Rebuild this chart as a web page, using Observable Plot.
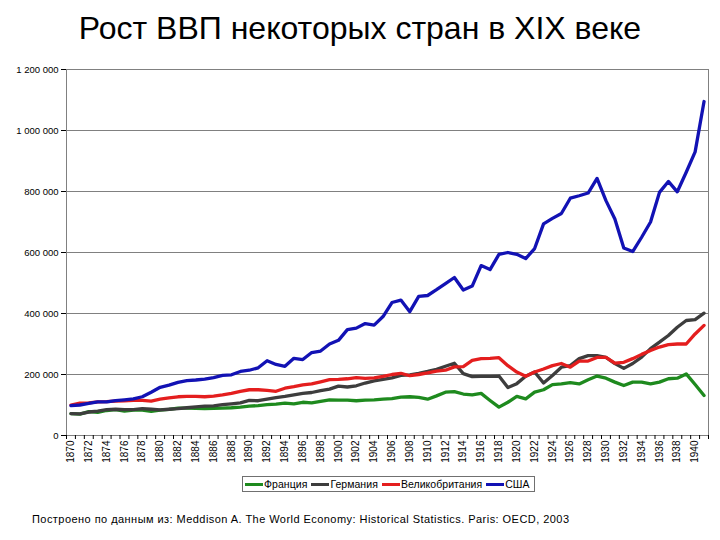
<!DOCTYPE html>
<html>
<head>
<meta charset="utf-8">
<script src="https://cdn.jsdelivr.net/npm/d3@7"></script>
<script src="https://cdn.jsdelivr.net/npm/@observablehq/plot@0.6"></script>
<style>
  html, body { margin: 0; padding: 0; background: #fff; }
  #page { position: relative; width: 720px; height: 540px; overflow: hidden; font-family: "Liberation Sans", Arial, sans-serif; }
  #title { position: absolute; left: 0; top: 12px; width: 720px; text-align: center; font-size: 32px; line-height: 32px; color: #000; }
  #chart { position: absolute; left: 0; top: 50px; }
  #legend { position: absolute; left: 242px; top: 476px; width: 289px; height: 14px; border: 1px solid #707070; display: flex; align-items: center; padding-left: 2px; box-sizing: content-box; }
  .item { display: flex; align-items: center; margin-right: 4px; font-size: 10.5px; letter-spacing: 0.05px; color: #000; font-family: "Liberation Sans Narrow", "Liberation Sans", Arial, sans-serif; white-space: nowrap; }
  .sw { width: 18px; height: 3px; margin-right: 1px; }
  #caption { position: absolute; left: 32px; top: 513px; font-size: 11px; letter-spacing: 0.45px; line-height: 12px; color: #000; white-space: nowrap; }
</style>
</head>
<body>
<div id="page">
  <div id="title"></div>
  <div id="chart"></div>
  <div id="legend"></div>
  <div id="caption"></div>
</div>
<script>
const titleText = "Рост ВВП некоторых стран в XIX веке";
const captionText = "Построено по данным из: Meddison A. The World Economy: Historical Statistics. Paris: OECD, 2003";

const years = [1870,1871,1872,1873,1874,1875,1876,1877,1878,1879,
  1880,1881,1882,1883,1884,1885,1886,1887,1888,1889,
  1890,1891,1892,1893,1894,1895,1896,1897,1898,1899,
  1900,1901,1902,1903,1904,1905,1906,1907,1908,1909,
  1910,1911,1912,1913,1914,1915,1916,1917,1918,1919,
  1920,1921,1922,1923,1924,1925,1926,1927,1928,1929,
  1930,1931,1932,1933,1934,1935,1936,1937,1938,1939,
  1940,1941];

const labelYears = [1870,1872,1874,1876,1878,1880,1882,1884,1886,1888,1890,1892,1894,1896,1898,
  1900,1902,1904,1906,1908,1910,1912,1914,1916,1918,1920,1922,1924,1926,1928,1930,1932,1934,1936,1938,1940];

const yTicks = [0, 200000, 400000, 600000, 800000, 1000000, 1200000];

const names = ["Франция", "Германия", "Великобритания", "США"];
const colors = ["#1e8a1e", "#3d3d3d", "#e41e1e", "#1212b4"];

const france = [72000,70000,78000,76000,82000,85000,80000,83000,83000,79000,
  83000,86000,90000,90000,89000,88000,89000,90000,91000,93000,
  96000,98000,101000,103000,106000,104000,109000,107000,112000,117000,
  116000,116000,114000,116000,117000,119000,121000,126000,127000,125000,
  119000,130000,142000,144000,136000,133000,138000,115000,93000,109000,
  128000,120000,142000,150000,167000,169000,173000,169000,183000,195000,
  188000,175000,164000,175000,175000,169000,175000,186000,188000,202000,
  167000,131000];

const germany = [72000,71000,77000,80000,85000,86000,85000,85000,88000,86000,
  84000,86000,88000,91000,94000,96000,97000,101000,104000,107000,
  115000,114000,119000,124000,128000,133000,138000,141000,147000,152000,
  162000,159000,163000,172000,179000,184000,189000,197000,199000,204000,
  210000,217000,227000,237000,203000,193000,194000,194000,195000,157000,
  170000,194000,208000,172000,197000,224000,229000,252000,262000,262000,
  256000,236000,220000,236000,257000,285000,306000,328000,355000,377000,
  380000,401000];

const britain = [100000,106000,107000,110000,111000,113000,114000,115000,115000,113000,
  119000,123000,127000,128000,128000,127000,129000,133000,138000,145000,
  150000,150000,148000,145000,155000,160000,166000,169000,176000,183000,
  184000,186000,190000,187000,189000,194000,200000,204000,196000,200000,
  205000,211000,214000,225000,226000,246000,252000,253000,255000,229000,
  208000,194000,208000,218000,229000,236000,224000,244000,244000,256000,
  256000,237000,240000,252000,266000,279000,290000,298000,300000,300000,
  333000,361000];

const usa = [98000,100000,105000,110000,110000,114000,117000,120000,127000,142000,
  158000,165000,174000,180000,182000,185000,190000,197000,199000,210000,
  214000,222000,245000,233000,227000,253000,249000,272000,277000,300000,
  312000,347000,352000,367000,362000,390000,436000,444000,406000,456000,
  459000,478000,498000,518000,477000,490000,557000,544000,594000,600000,
  594000,580000,613000,694000,712000,728000,778000,786000,795000,843000,
  770000,710000,615000,603000,650000,700000,797000,833000,799000,863000,
  930000,1095000];

const series = [france, germany, britain, usa];

const rows = [];
series.forEach((vals, i) => {
  vals.forEach((v, j) => rows.push({country: names[i], year: years[j], value: v}));
});

const bounds = years.map(y => y - 0.5).concat([years[years.length - 1] + 0.5]);

const fmt = d3.formatLocale({decimal: ",", thousands: " ", grouping: [3], currency: ["", ""]}).format(",");

document.getElementById("title").textContent = titleText;
document.getElementById("caption").textContent = captionText;

const narrow = "'Liberation Sans Narrow', 'Liberation Sans', Arial, sans-serif";

const chart = Plot.plot({
  width: 720,
  height: 425,
  marginTop: 19,
  marginBottom: 40,
  marginLeft: 66,
  marginRight: 12,
  style: {fontFamily: "'Liberation Sans', Arial, sans-serif", background: "transparent", overflow: "visible"},
  x: {type: "linear", domain: [bounds[0], bounds[bounds.length - 1]], label: null},
  y: {domain: [0, 1200000], label: null},
  color: {domain: names, range: colors},
  marks: [
    Plot.gridY(yTicks.filter(d => d > 0), {stroke: "#808080", strokeOpacity: 1, strokeWidth: 1}),
    Plot.ruleX([bounds[0], bounds[bounds.length - 1]], {y1: 0, y2: 1200000, stroke: "#808080"}),
    Plot.ruleY([0], {stroke: "#808080"}),
    Plot.axisY({ticks: yTicks, tickSize: 5, tickPadding: 3, tickFormat: fmt, fontSize: 9.5, fontFamily: narrow, label: null}),
    Plot.axisX({ticks: bounds, tickSize: 4, tickFormat: () => "", label: null}),
    Plot.axisX({ticks: labelYears, tickSize: 0, tickPadding: 5, tickRotate: -90, tickFormat: d => String(d), fontSize: 10, fontFamily: narrow, label: null}),
    Plot.line(rows, {x: "year", y: "value", stroke: "country", z: "country", strokeWidth: 3.3, strokeLinejoin: "round", strokeLinecap: "round"})
  ]
});
document.getElementById("chart").appendChild(chart);

const legend = document.getElementById("legend");
names.forEach((n, i) => {
  const item = document.createElement("div");
  item.className = "item";
  const sw = document.createElement("span");
  sw.className = "sw";
  sw.style.background = colors[i];
  const t = document.createElement("span");
  t.textContent = n;
  item.appendChild(sw);
  item.appendChild(t);
  legend.appendChild(item);
});
</script>
</body>
</html>
